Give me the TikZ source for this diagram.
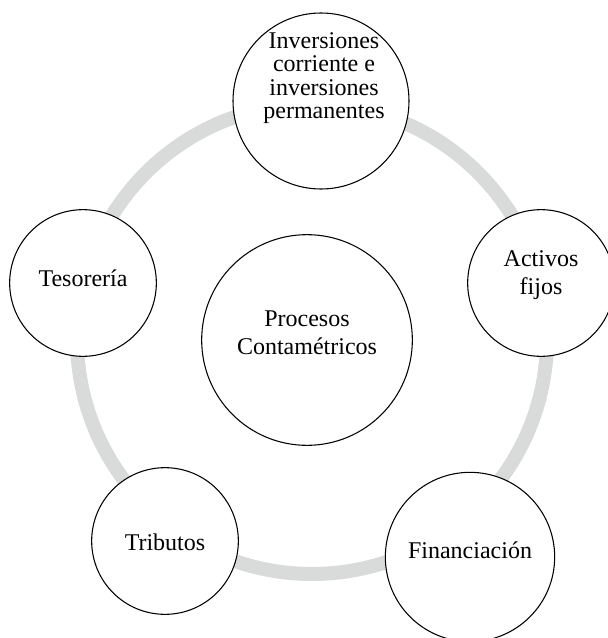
\documentclass[tikz,border=0pt]{standalone}
\usepackage{fontspec}
\setmainfont{Liberation Serif}

\definecolor{ringgray}{RGB}{217,219,218}

\tikzset{
  bubble/.style={circle, draw=black, line width=0.8pt, fill=white, inner sep=0pt},
  txt/.style={align=center, font=\fontsize{18pt}{21pt}\selectfont},
}

\begin{document}
\begin{tikzpicture}[x=0.75pt, y=-0.75pt]
\useasboundingbox (0,0) rectangle (607,638);

% Gray ring behind the circles
\draw[ringgray, line width=10.5pt] (312,339) circle (235);

% Circles
\node[bubble, minimum size=158pt] (proc) at (307,340) {};
\node[bubble, minimum size=132pt] (inv) at (321,101) {};
\node[bubble, minimum size=110pt] (act) at (541,283) {};
\node[bubble, minimum size=127pt] (fin) at (470,557) {};
\node[bubble, minimum size=110pt] (tri) at (165,541) {};
\node[bubble, minimum size=110pt] (tes) at (83,283) {};

% Labels
\node[txt] (proc-txt) at (307,333) {Procesos\\Contamétricos};
\node[txt, font=\fontsize{18pt}{17.6pt}\selectfont] (inv-txt) at (324,78)
  {Inversiones\\corriente e\\inversiones\\permanentes};
\node[txt] (act-txt) at (541,275) {Activos\\fijos};
\node[txt, anchor=base] (fin-txt) at (470,558) {Financiación};
\node[txt, anchor=base] (tri-txt) at (165,550) {Tributos};
\node[txt, anchor=base] (tes-txt) at (83,286) {Tesorería};

\end{tikzpicture}
\end{document}
